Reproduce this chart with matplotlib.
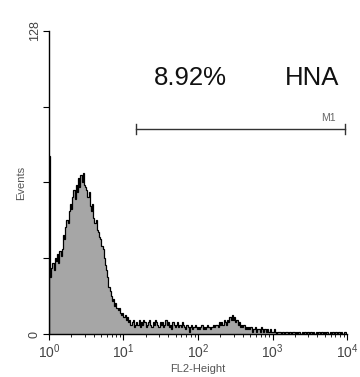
import numpy as np
import matplotlib
matplotlib.use("Agg")
import matplotlib.pyplot as plt
from matplotlib.ticker import LogLocator, NullFormatter

plt.rcParams['font.family'] = ['Liberation Sans', 'DejaVu Sans']
plt.rcParams['mathtext.fontset'] = 'custom'
plt.rcParams['mathtext.rm'] = 'Liberation Sans'
plt.rcParams['mathtext.default'] = 'regular'

# FL2-Height histogram, 256 log channels over 4 decades
counts = [
    75, 24, 28, 30, 27, 32, 31, 34, 30, 35, 33, 36, 42, 40, 45, 48,
    47, 52, 55, 53, 58, 61, 57, 63, 60, 66, 62, 67, 64, 68, 63, 62,
    61, 58, 60, 54, 52, 55, 49, 47, 48, 44, 43, 41, 40, 37, 36, 32,
    29, 27, 24, 20, 18, 16, 14, 15, 12, 13, 11, 10, 11, 9, 8, 9,
    7, 8, 6, 7, 5, 6, 4, 5, 6, 3, 4, 5, 4, 6, 3, 5,
    4, 6, 5, 3, 4, 5, 6, 4, 3, 5, 4, 6, 5, 4, 3, 5,
    4, 5, 3, 4, 6, 4, 5, 3, 4, 2, 5, 4, 3, 4, 5, 3,
    4, 3, 5, 4, 3, 2, 4, 3, 1, 3, 4, 2, 3, 4, 3, 2,
    3, 2, 3, 4, 2, 3, 2, 3, 4, 3, 2, 3, 3, 4, 3, 4,
    4, 3, 5, 4, 5, 4, 6, 5, 4, 6, 5, 7, 6, 8, 6, 7,
    5, 6, 4, 5, 3, 4, 3, 4, 2, 3, 2, 3, 2, 3, 1, 2,
    2, 3, 1, 2, 2, 1, 3, 2, 1, 2, 1, 2, 1, 1, 2, 1,
    1, 2, 1, 0, 1, 1, 1, 0, 1, 1, 0, 1, 1, 0, 1, 1,
    0, 1, 1, 0, 1, 0, 1, 1, 0, 1, 0, 1, 1, 0, 1, 0,
    1, 1, 0, 1, 0, 1, 0, 1, 1, 0, 1, 0, 1, 0, 1, 1,
    0, 1, 0, 1, 1, 0, 1, 0, 1, 1, 0, 1, 0, 1, 1, 0,
]
x_ticks = [1, 10, 100, 1000, 10000]
x_labels = ["$10^0$", "$10^1$", "$10^2$", "$10^3$", "$10^4$"]
y_ticks = [0, 32, 64, 96, 128]
y_labels = ["0", "", "", "", "128"]
m1_range = [14.7, 9400]
m1_level = 86.5
pct_text = "8.92%"
pop_text = "HNA"

edges = np.logspace(0, 4, len(counts) + 1)

fig = plt.figure(figsize=(3.6, 3.77), dpi=100)
ax = fig.add_axes([0.136, 0.114, 0.828, 0.804])

ax.stairs(counts, edges, fill=True, color='#a6a6a6')
ax.stairs(counts, edges, color='black', lw=0.9)

ax.set_xscale('log')
ax.set_xlim(1, 10000)
ax.set_ylim(0, 128)

ax.set_xticks(x_ticks)
ax.set_xticklabels(x_labels)
ax.xaxis.set_minor_locator(LogLocator(base=10, subs=np.arange(2, 10)))
ax.xaxis.set_minor_formatter(NullFormatter())
ax.set_yticks(y_ticks)
ax.set_yticklabels(y_labels, rotation=90, va='center')

ax.tick_params(axis='x', which='major', length=4, width=0.8, labelsize=10,
               labelcolor='#444444', pad=2)
ax.tick_params(axis='y', which='major', length=4, width=0.8, labelsize=9,
               labelcolor='#444444', pad=2)
ax.tick_params(axis='x', which='minor', length=2, width=0.6)

for s in ['top', 'right']:
    ax.spines[s].set_visible(False)
for s in ['left', 'bottom']:
    ax.spines[s].set_linewidth(1.0)

ax.set_xlabel("FL2-Height", fontsize=8, color='#555555', labelpad=2)
ax.set_ylabel("Events", fontsize=8, color='#555555', labelpad=2)

# M1 marker
ax.plot(m1_range, [m1_level, m1_level], color='#333333', lw=1)
for xv in m1_range:
    ax.plot([xv, xv], [m1_level - 2, m1_level + 2], color='#333333', lw=1)
ax.text(5600, m1_level + 2.5, "M1", fontsize=7.5, color='#666666', ha='center', va='bottom')

ax.text(78, 108, pct_text, fontsize=18.5, ha='center', va='center', color='#111111')
ax.text(3390, 108, pop_text, fontsize=18.5, ha='center', va='center', color='#111111')

fig.savefig("out.png", dpi=100)
